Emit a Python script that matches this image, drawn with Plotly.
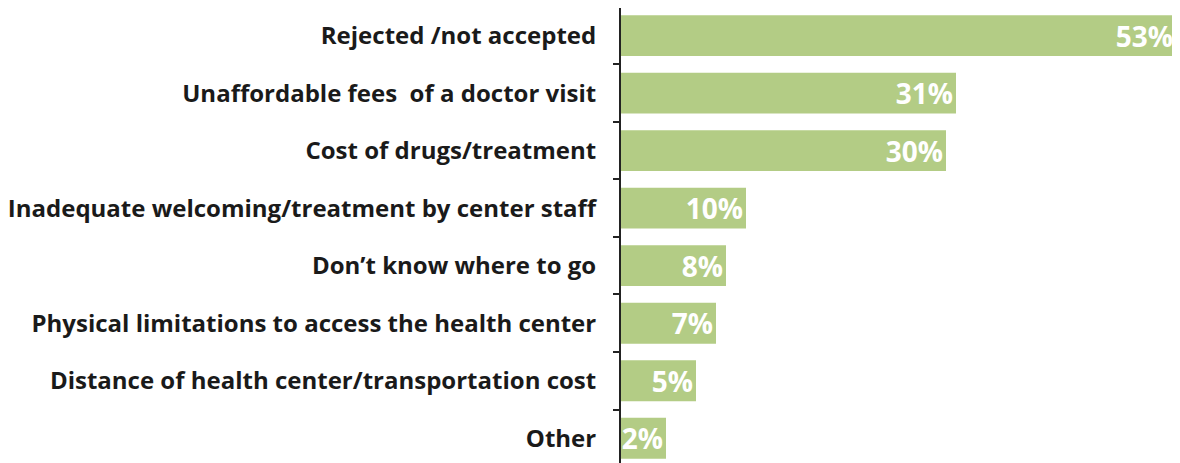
import plotly.graph_objects as go

# data
reasons = [
    "Rejected /not accepted",
    "Unaffordable fees  of a doctor visit",
    "Cost of drugs/treatment",
    "Inadequate welcoming/treatment by center staff",
    "Don\u2019t know where to go",
    "Physical limitations to access the health center",
    "Distance of health center/transportation cost",
    "Other",
]
shares = [53, 31, 30, 10, 8, 7, 5, 2]

BAR_COLOR = "#b3cc85"
TEXT_COLOR = "#1a1a1a"
AXIS_MIN = -2.5  # value axis starts a little below zero, bars grow from the axis line

fig = go.Figure(
    go.Bar(
        x=[v - AXIS_MIN for v in shares],
        y=reasons,
        orientation="h",
        base=AXIS_MIN,
        marker=dict(color=BAR_COLOR, line_width=0),
        text=[f"{v}%" for v in shares],
        textposition="inside",
        insidetextanchor="end",
        constraintext="none",
        textangle=0,
        textfont=dict(family="Open Sans", size=28, color="white", weight="bold"),
        hoverinfo="skip",
    )
)

# page body has an 8px margin, so the figure is a bit smaller than the window
fig.update_layout(
    width=1172,
    height=455,
    margin=dict(l=613, r=0, t=0, b=0),
    paper_bgcolor="white",
    plot_bgcolor="white",
    bargap=0.29,
    showlegend=False,
)

fig.update_xaxes(
    range=[AXIS_MIN, 53.4],
    visible=False,
)

fig.update_yaxes(
    type="category",
    range=[7.43, -0.48],
    showline=True,
    linecolor="#222222",
    linewidth=2,
    ticks="outside",
    tickson="boundaries",
    ticklen=6,
    tickwidth=2,
    tickcolor="#222222",
    ticklabelstandoff=18,
    showgrid=False,
    zeroline=False,
    tickfont=dict(family="Open Sans", size=24, color=TEXT_COLOR, weight="bold"),
    automargin=False,
)

fig.write_html("out.html")
